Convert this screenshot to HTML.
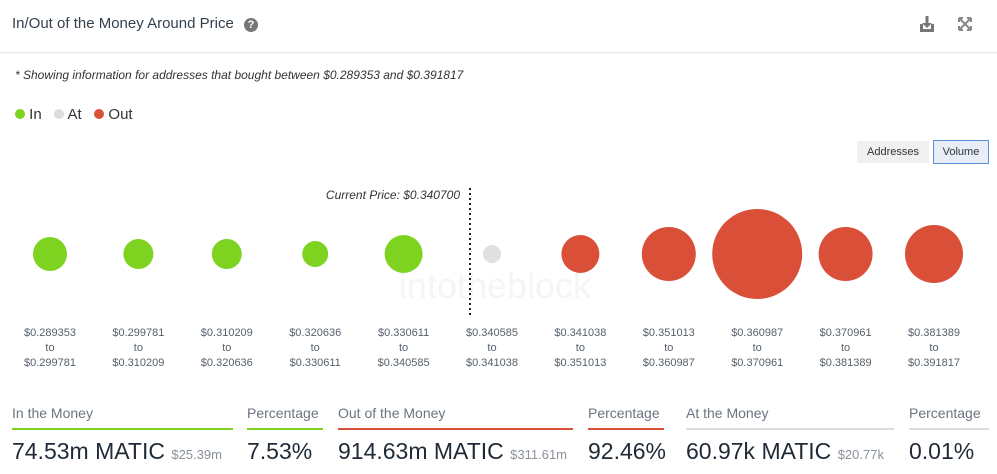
<!DOCTYPE html>
<html><head><meta charset="utf-8"><style>
body{margin:0;width:997px;height:474px;background:#fff;font-family:"Liberation Sans",sans-serif;position:relative;overflow:hidden;color:#2b3440}
.a{position:absolute}
.lbl{font-size:14px;color:#6b7480}
.val{font-size:23px;color:#1f2a36}
.sub{font-size:13px;color:#8a929b}
</style></head><body>
<div class="a" style="left:12px;top:15px;font-size:15px;color:#34404c">In/Out of the Money Around Price <span style="display:inline-block;width:14px;height:14px;border-radius:50%;background:#777;color:#fff;font-size:11px;text-align:center;line-height:14px;font-weight:bold;margin-left:6px">?</span></div>
<svg class="a" style="left:917px;top:15px" width="60" height="20">
<g fill="#777"><rect x="3" y="14" width="14" height="3"/><rect x="3" y="9" width="3" height="6"/><rect x="14" y="9" width="3" height="6"/><rect x="8.5" y="1" width="3" height="8"/><polygon points="5,8 15,8 10,13"/></g>
<g stroke="#888" stroke-width="2" fill="none"><path d="M42 3 L54 15 M54 3 L42 15 M42 3 h4 M42 3 v4 M54 3 h-4 M54 3 v4 M42 15 h4 M42 15 v-4 M54 15 h-4 M54 15 v-4"/></g>
</svg>
<div class="a" style="left:0;top:52px;width:997px;height:1px;background:#e6e6e6"></div>
<div class="a" style="left:15px;top:68px;font-size:12px;font-style:italic;color:#333">* Showing information for addresses that bought between $0.289353 and $0.391817</div>
<div class="a" style="left:15px;top:106px;font-size:15px;color:#333">
<span><span style="display:inline-block;width:10px;height:10px;border-radius:50%;background:#7ed321"></span> In</span>&nbsp;&nbsp;
<span><span style="display:inline-block;width:10px;height:10px;border-radius:50%;background:#ddd"></span> At</span>&nbsp;&nbsp;
<span><span style="display:inline-block;width:10px;height:10px;border-radius:50%;background:#d94f38"></span> Out</span></div>
<div class="a" style="left:857px;top:141px;width:72px;height:22px;background:#f0f0f0;font-size:11px;line-height:22px;text-align:center;color:#333">Addresses</div>
<div class="a" style="left:933px;top:140px;width:54px;height:22px;background:#e8eef8;border:1px solid #5b8fd6;font-size:11px;line-height:22px;text-align:center;color:#333">Volume</div>
<svg id="ch" class="a" style="left:0;top:180px" width="997" height="200"></svg>
<script>
const lows=["$0.289353","$0.299781","$0.310209","$0.320636","$0.330611","$0.340585","$0.341038","$0.351013","$0.360987","$0.370961","$0.381389"];
const highs=["$0.299781","$0.310209","$0.320636","$0.330611","$0.340585","$0.341038","$0.351013","$0.360987","$0.370961","$0.381389","$0.391817"];
const volumes=[14.3,11.1,11.1,8.3,17.8,0.06,17.8,36.0,100,36.0,41.5];
const kinds=["in","in","in","in","in","at","out","out","out","out","out"];
const colors={in:"#7ed321",at:"#e0e0e0",out:"#d94f38"};
const svg=document.getElementById('ch');const NS="http://www.w3.org/2000/svg";
const x0=50,step=88.4,cy=74,rmax=45,rmin=9;
const vmax=Math.max(...volumes);
function xs(i){return x0+i*step;}
function rs(v){return Math.max(rmin,rmax*Math.sqrt(v/vmax));}
let wm=document.createElementNS(NS,'text');wm.setAttribute('x',495);wm.setAttribute('y',118);wm.setAttribute('text-anchor','middle');wm.setAttribute('font-size','36');wm.setAttribute('fill','#f5f5f5');wm.textContent='intotheblock';


svg.appendChild(wm);
let ln=document.createElementNS(NS,'line');ln.setAttribute('x1',470);ln.setAttribute('x2',470);ln.setAttribute('y1',8);ln.setAttribute('y2',138);ln.setAttribute('stroke','#222');ln.setAttribute('stroke-width','2');ln.setAttribute('stroke-dasharray','2 3');


svg.appendChild(ln);
let ct=document.createElementNS(NS,'text');ct.setAttribute('x',460);ct.setAttribute('y',19);ct.setAttribute('text-anchor','end');ct.setAttribute('font-size','12');ct.setAttribute('font-style','italic');ct.setAttribute('fill','#333');ct.textContent='Current Price: $0.340700';


svg.appendChild(ct);
volumes.forEach((v,i)=>{
 let c=document.createElementNS(NS,'circle');c.setAttribute('cx',xs(i));c.setAttribute('cy',cy);c.setAttribute('r',rs(v));c.setAttribute('fill',colors[kinds[i]]);
 
 
 svg.appendChild(c);
 [lows[i],'to',highs[i]].forEach((t,j)=>{
  let tx=document.createElementNS(NS,'text');tx.setAttribute('x',xs(i));tx.setAttribute('y',156+j*15);tx.setAttribute('text-anchor','middle');tx.setAttribute('font-size','11');tx.setAttribute('fill','#56606b');tx.textContent=t;
  
  
  svg.appendChild(tx);
 });
});
</script>
<div>
<div class="a lbl" style="left:12px;top:405px">In the Money</div><div class="a" style="left:12px;top:428px;width:221px;height:2px;background:#7ed321"></div>
<div class="a val" style="left:12px;top:438px">74.53m MATIC <span class="sub">$25.39m</span></div>
<div class="a lbl" style="left:247px;top:405px">Percentage</div><div class="a" style="left:247px;top:428px;width:76px;height:2px;background:#7ed321"></div>
<div class="a val" style="left:247px;top:438px">7.53%</div>
<div class="a lbl" style="left:338px;top:405px">Out of the Money</div><div class="a" style="left:338px;top:428px;width:235px;height:2px;background:#d94f38"></div>
<div class="a val" style="left:338px;top:438px">914.63m MATIC <span class="sub">$311.61m</span></div>
<div class="a lbl" style="left:588px;top:405px">Percentage</div><div class="a" style="left:588px;top:428px;width:76px;height:2px;background:#d94f38"></div>
<div class="a val" style="left:588px;top:438px">92.46%</div>
<div class="a lbl" style="left:686px;top:405px">At the Money</div><div class="a" style="left:686px;top:428px;width:208px;height:2px;background:#ddd"></div>
<div class="a val" style="left:686px;top:438px">60.97k MATIC <span class="sub">$20.77k</span></div>
<div class="a lbl" style="left:909px;top:405px">Percentage</div><div class="a" style="left:909px;top:428px;width:80px;height:2px;background:#ddd"></div>
<div class="a val" style="left:909px;top:438px">0.01%</div>
</div>
</body></html>
